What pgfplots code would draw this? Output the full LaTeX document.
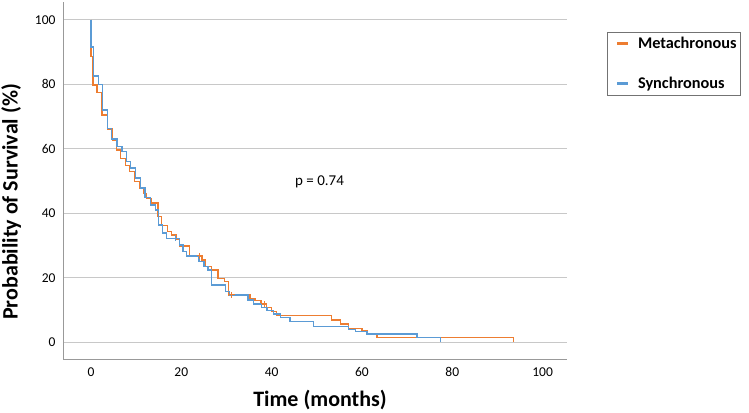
\documentclass[border=0pt]{standalone}
\usepackage{pgfplots}
\pgfplotsset{compat=1.18}
\usepackage{fontspec}
\setmainfont{Carlito}
\definecolor{metaorange}{HTML}{ED7D31}
\definecolor{syncblue}{HTML}{5B9BD5}
\definecolor{gridc}{HTML}{C8C8C8}
\begin{document}
\begin{tikzpicture}[x=1bp,y=1bp]
\useasboundingbox (0,0) rectangle (749,412);
\begin{axis}[
  at={(63bp,53bp)}, anchor=south west,
  scale only axis, width=504bp, height=357bp,
  xmin=-6.2, xmax=105.4, ymin=-5.2, ymax=105.5,
  axis x line=bottom, axis y line=left,
  axis line style={-, draw=gray!80, line width=0.9pt},
  xtick={0,20,...,100}, ytick={0,20,...,100},
  major tick length=0pt,
  ymajorgrids, grid style={gridc, line width=1.2pt},
  /pgf/number format/assume math mode=true,
  tick label style={font=\fontsize{13.5bp}{16bp}\selectfont, black},
  xticklabel style={yshift=-5bp},
  yticklabel style={xshift=-4bp},
  xlabel={Time (months)}, ylabel={Probability of Survival (\%)},
  every axis x label/.style={at={(axis description cs:0.51,-0.115)}, anchor=center, font=\bfseries\fontsize{22bp}{26bp}\selectfont},
  every axis y label/.style={at={(axis description cs:-0.103,0.44)}, anchor=center, rotate=90, font=\bfseries\fontsize{22bp}{26bp}\selectfont},
  legend style={at={(1.0788,0.9168)}, anchor=north west, draw=gray!90!black, line width=0.6pt,
    font=\bfseries\fontsize{16.3bp}{19bp}\selectfont, row sep=23bp, inner xsep=2bp, inner ysep=3bp,
    cells={anchor=west}},
  legend image code/.code={\path[draw=none] (0bp,0bp) -- (27bp,0bp); \draw[#1, line width=3pt] (8bp,0bp) -- (19bp,0bp);},
  clip=false,
]
\addplot[const plot, color=metaorange, line width=1.4pt] coordinates {
(0,100) (0,88.6) (0.4,79.8) (1.3,77.5) (2.4,70.5) (3.7,66.1) (4.8,62.7) (5.6,59.6)
(6.5,57) (7.6,54.8) (8.5,52.9) (9.6,49.8) (10.7,47.8) (11.6,46.2) (12.3,44.6) (13.3,43.2)
(14.8,39) (15.6,36.2) (16.9,34.3) (17.8,33.3) (18.9,32.0) (19.6,29.8) (21.8,26.8)
(24.6,25.5) (25.4,23.4) (26.7,22.4) (28.1,19.8) (29.6,18.8) (30.4,14.7) (35.2,13.6)
(36.3,12.9) (37.6,11.9) (38.9,10.8) (40,9.5) (41.1,8.2) (53.2,6.9) (55.2,5.6) (57,4.3)
(60,3.5) (61.1,2.6) (63.3,1.4) (93.6,1.4) (93.6,0)
};
\addlegendentry{Metachronous}
\addplot[const plot, color=syncblue, line width=1.4pt] coordinates {
(0,100) (0,91.5) (0.5,82.6) (1.6,80) (2.6,72) (3.6,66.3) (4.6,63) (5.8,60.6) (6.9,59.1)
(7.9,56) (8.7,54) (9.8,50.9) (10.9,47.8) (12,44.8) (13.2,42.5) (14.3,41) (14.9,36.4)
(15.8,33.9) (16.7,32.2) (19.6,30.2) (20.4,28.1) (21.1,26.8) (23.9,25) (25,23.4)
(25.9,22.4) (26.7,17.8) (29.8,15.7) (30.6,14.7) (34.8,13.1) (36,11.9) (37.8,10.8)
(39,9.8) (40.4,8.8) (41.9,7.6) (44.1,6.4) (49.3,4.8) (57,4) (58.5,3.3) (61.1,2.6)
(72.2,1.4) (77.4,1.4) (77.4,0)
};
\addlegendentry{Synchronous}
\addplot[only marks, mark=+, mark size=3bp, color=metaorange, line width=0.9pt, forget plot] coordinates {(24.1,26.8) (31.2,14.7) (38.3,11.9)};
\addplot[only marks, mark=+, mark size=3bp, color=syncblue, line width=0.9pt, forget plot] coordinates {(18.6,32.2)};
\node[font=\fontsize{15bp}{18bp}\selectfont, anchor=center] at (axis cs:50.6,49.8) {p = 0.74};
\end{axis}
\end{tikzpicture}
\end{document}
